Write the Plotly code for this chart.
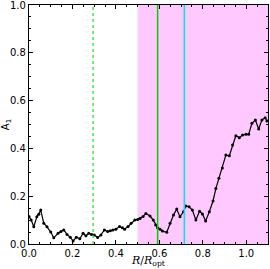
import plotly.graph_objects as go

r_norm = [0.000, 0.010, 0.022, 0.036, 0.045, 0.054, 0.068, 0.083, 0.100, 0.114, 0.134,
          0.147, 0.160, 0.175, 0.190, 0.203, 0.218, 0.234, 0.249, 0.262, 0.275, 0.288,
          0.300, 0.316, 0.331, 0.347, 0.362, 0.374, 0.386, 0.400, 0.417, 0.430, 0.440,
          0.456, 0.470, 0.487, 0.500, 0.511, 0.525, 0.538, 0.557, 0.572, 0.583, 0.592,
          0.603, 0.614, 0.634, 0.649, 0.665, 0.680, 0.695, 0.711, 0.722, 0.737, 0.752,
          0.768, 0.785, 0.798, 0.813, 0.830, 0.847, 0.860, 0.874, 0.890, 0.906, 0.922,
          0.937, 0.952, 0.968, 0.983, 0.999, 1.011, 1.026, 1.042, 1.057, 1.072, 1.087,
          1.095]
a1 = [0.115, 0.100, 0.072, 0.114, 0.125, 0.142, 0.087, 0.072, 0.050, 0.026, 0.045,
      0.052, 0.059, 0.040, 0.028, 0.013, 0.028, 0.022, 0.045, 0.034, 0.045, 0.040,
      0.038, 0.027, 0.038, 0.059, 0.052, 0.055, 0.059, 0.062, 0.073, 0.068, 0.062,
      0.073, 0.087, 0.100, 0.103, 0.107, 0.115, 0.128, 0.117, 0.100, 0.079, 0.068,
      0.062, 0.054, 0.049, 0.087, 0.121, 0.146, 0.114, 0.135, 0.159, 0.156, 0.142,
      0.100, 0.137, 0.126, 0.096, 0.135, 0.180, 0.232, 0.275, 0.318, 0.372, 0.369,
      0.414, 0.453, 0.445, 0.456, 0.459, 0.459, 0.505, 0.519, 0.481, 0.519, 0.528,
      0.515]
y_tick_values = [0.0, 0.2, 0.4, 0.6, 0.8, 1.0]
y_tick_labels = ["0.0", "0.2", "0.4", "0.6", "0.8", "1.0"]
x_tick_values = [0.0, 0.2, 0.4, 0.6, 0.8, 1.0]
x_tick_labels = ["0.0", "0.2", "0.4", "0.6", "0.8", "1.0"]

shade_range = [0.5, 1.1]
r_dotted_green = 0.295
r_solid_green = 0.592
r_cyan = 0.715

fig = go.Figure()
fig.add_trace(go.Scatter(
    x=r_norm, y=a1, mode="lines+markers",
    line=dict(color="black", width=1.2),
    marker=dict(color="black", size=3),
    showlegend=False,
))

fig.add_shape(type="rect", xref="x", yref="paper", x0=shade_range[0], x1=shade_range[1],
              y0=0, y1=1, fillcolor="#ffc8ff", line=dict(width=0), layer="below")
fig.add_shape(type="line", xref="x", yref="paper", x0=r_dotted_green, x1=r_dotted_green,
              y0=0, y1=1, line=dict(color="#22dd22", width=1.2, dash="dot"))
fig.add_shape(type="line", xref="x", yref="paper", x0=r_solid_green, x1=r_solid_green,
              y0=0, y1=1, line=dict(color="#00d000", width=1.5))
fig.add_shape(type="line", xref="x", yref="paper", x0=r_cyan, x1=r_cyan,
              y0=0, y1=1, line=dict(color="#00e5ff", width=1.6))

axis_common = dict(
    showgrid=False, zeroline=False, showline=True, linecolor="black", linewidth=1.3,
    mirror="allticks", ticks="inside", ticklen=4, tickwidth=1, tickcolor="black",
    tickfont=dict(family="DejaVu Sans", size=10, color="black"),
    minor=dict(ticks="inside", ticklen=2, tickcolor="black", dtick=0.05, tick0=0),
    automargin=False, ticklabeloverflow="allow",
)
fig.update_xaxes(range=[0, 1.1], tickmode="array", tickvals=x_tick_values,
                 ticktext=x_tick_labels, **axis_common)
fig.update_yaxes(range=[0, 1.0], tickmode="array", tickvals=y_tick_values,
                 ticktext=y_tick_labels,
                 title=dict(text="A<sub>1</sub>", standoff=1,
                            font=dict(family="DejaVu Sans", size=10, color="black")),
                 **axis_common)

fig.add_annotation(text="<i>R</i>/<i>R</i><sub>opt</sub>", xref="paper", yref="paper",
                   x=0.5, y=-0.035, xanchor="center", yanchor="top", showarrow=False,
                   font=dict(family="DejaVu Serif", size=11, color="black"))

fig.update_layout(
    width=270, height=269,
    margin=dict(l=29, r=2, t=5, b=25),
    plot_bgcolor="white", paper_bgcolor="white",
)
fig.write_html(
    "out.html", config={"displayModeBar": False},
    post_script=("var gd=document.getElementById('{plot_id}');"
                 "gd.style.position='fixed';gd.style.left='0px';gd.style.top='0px';"),
)
